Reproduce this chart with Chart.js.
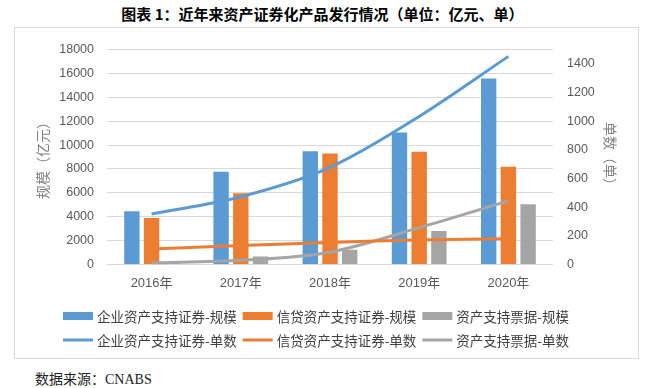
<!DOCTYPE html>
<html>
<head>
<meta charset="utf-8">
<script src="https://cdn.jsdelivr.net/npm/chart.js@4"></script>
<style>
  body { margin: 0; width: 660px; height: 388px; background: #fff; position: relative; overflow: hidden; }
  #title { position: absolute; left: 0; width: 645px; top: 3px; text-align: center;
    font: bold 15px "Noto Sans CJK SC", sans-serif; color: #000; }
  #box { position: absolute; left: 14px; top: 27px; width: 623px; height: 330px; border: 1px solid #d9d9d9; }
  #source { position: absolute; left: 35px; top: 368px;
    font: 14px "Liberation Serif", "Noto Sans CJK SC", serif; color: #222; }
</style>
</head>
<body>
<div id="title">图表 1：近年来资产证券化产品发行情况（单位：亿元、单）</div>
<div id="box"><canvas id="chart"></canvas></div>
<div id="source">数据来源：CNABS</div>
<script>
// categories
const years = ['2016年', '2017年', '2018年', '2019年', '2020年'];

// issuance size (亿元)
const corpAbsSize = [4450, 7760, 9480, 11060, 15570];
const creditAbsSize = [3890, 5970, 9290, 9430, 8190];
const abnSize = [150, 680, 1230, 2810, 5050];

// number of deals (单)
const corpAbsCount = [352, 473, 678, 1033, 1452];
const creditAbsCount = [109, 132, 154, 171, 180];
const abnCount = [10, 29, 86, 257, 444];

const blue = '#5B9BD5', orange = '#ED7D31', gray = '#A5A5A5';
const tickFont = { family: '"Liberation Sans", "Noto Sans CJK SC"', size: 12.5 };
const plainNum = v => String(v);

// legend in two rows of three, drawn on the canvas
const rowLegend = {
  id: 'rowLegend',
  afterDraw(chart) {
    const ctx = chart.ctx;
    ctx.save();
    ctx.font = '13.5px "Noto Sans CJK SC"';
    ctx.textBaseline = 'middle';
    const rows = [[0, 1, 2], [3, 4, 5]];
    const rowY = [chart.height - 42, chart.height - 18];
    rows.forEach((row, r) => {
      let x = 48;
      const y = rowY[r];
      row.forEach(i => {
        const ds = chart.data.datasets[i];
        if (ds.type === 'bar') {
          ctx.fillStyle = ds.backgroundColor;
          ctx.fillRect(x, y - 4, 30, 8);
        } else {
          ctx.strokeStyle = ds.borderColor;
          ctx.lineWidth = 3;
          ctx.beginPath();
          ctx.moveTo(x, y);
          ctx.lineTo(x + 30, y);
          ctx.stroke();
        }
        x += 34;
        ctx.fillStyle = '#404040';
        ctx.fillText(ds.label, x, y + 1);
        x += ctx.measureText(ds.label).width + 6;
      });
    });
    ctx.restore();
  }
};

function lineSet(label, data, color) {
  return { type: 'line', label: label, data: data, yAxisID: 'y1', borderColor: color, backgroundColor: color,
    borderWidth: 3, pointRadius: 0, tension: 0.33, order: 0 };
}

function barSet(label, data, color) {
  return { type: 'bar', label: label, data: data, yAxisID: 'y', backgroundColor: color,
    categoryPercentage: 0.663, barPercentage: 0.78, order: 1 };
}

new Chart(document.getElementById('chart'), {
  data: {
    labels: years,
    datasets: [
      barSet('企业资产支持证券-规模', corpAbsSize, blue),
      barSet('信贷资产支持证券-规模', creditAbsSize, orange),
      barSet('资产支持票据-规模', abnSize, gray),
      lineSet('企业资产支持证券-单数', corpAbsCount, blue),
      lineSet('信贷资产支持证券-单数', creditAbsCount, orange),
      lineSet('资产支持票据-单数', abnCount, gray)
    ]
  },
  options: {
    responsive: true,
    maintainAspectRatio: false,
    animation: false,
    layout: { padding: { top: 17, bottom: 60, left: 0, right: 0 } },
    plugins: { legend: { display: false }, tooltip: { enabled: false } },
    scales: {
      x: {
        grid: { display: false, drawTicks: false },
        border: { display: false },
        ticks: { padding: 10.7, color: '#595959', maxRotation: 0,
          font: { family: '"Liberation Sans", "Noto Sans CJK SC"', size: 13 } },
        afterFit(s) { s.height = 33.5; }
      },
      y: {
        position: 'left', min: 0, max: 18000,
        ticks: { stepSize: 2000, padding: 13, color: '#595959', font: tickFont, callback: plainNum },
        grid: { color: '#d9d9d9', drawTicks: false },
        border: { display: false },
        title: { display: true, text: '规模（亿元）', color: '#808080',
          font: { family: '"Noto Sans CJK SC"', size: 14 }, padding: { top: 19.6, bottom: 0 } },
        afterFit(s) { s.width = 92; }
      },
      y1: {
        position: 'right', min: 0, max: 1500,
        ticks: { stepSize: 200, padding: 14, color: '#595959', font: tickFont, callback: plainNum },
        grid: { display: false, drawTicks: false },
        border: { display: false },
        afterBuildTicks(s) { s.ticks = s.ticks.filter(t => t.value <= 1400); },
        title: { display: true, text: '单数（单）', color: '#808080',
          font: { family: '"Noto Sans CJK SC"', size: 14 }, padding: { top: 19.6, bottom: 0 } },
        afterFit(s) { s.width = 85; }
      }
    }
  },
  plugins: [rowLegend]
});
</script>
</body>
</html>
